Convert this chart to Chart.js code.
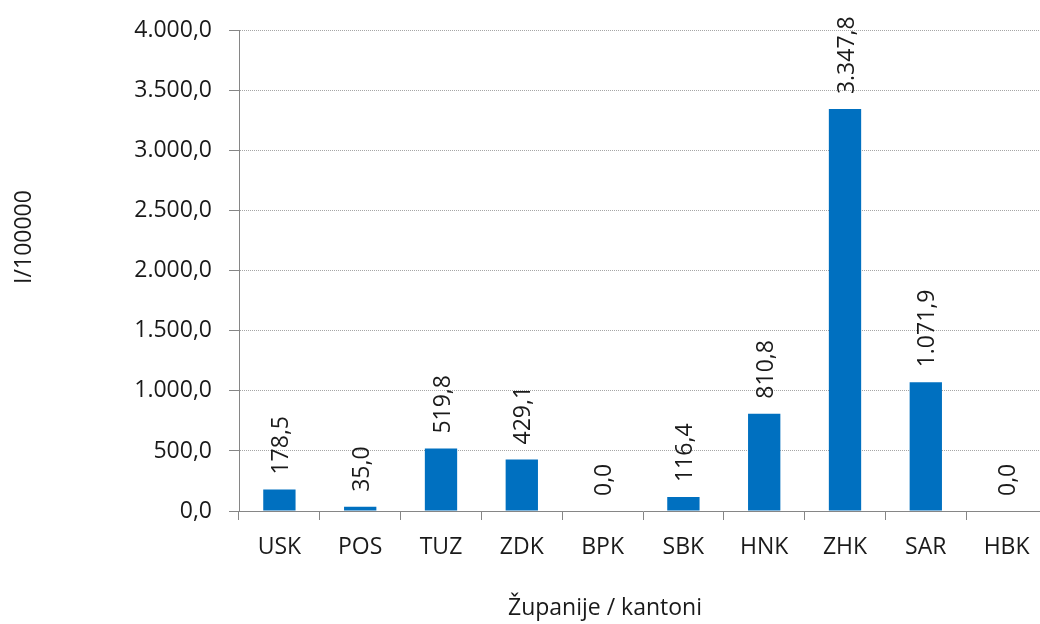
<!DOCTYPE html>
<html>
<head>
<meta charset="utf-8">
<script src="https://cdn.jsdelivr.net/npm/chart.js"></script>
<style>
  html, body { margin: 0; padding: 0; background: #fff; overflow: hidden; }
  #wrap { width: 1060px; height: 624px; }
</style>
</head>
<body>
<div id="wrap"><canvas id="grafikon"></canvas></div>
<script>
const kantoni = ['USK', 'POS', 'TUZ', 'ZDK', 'BPK', 'SBK', 'HNK', 'ZHK', 'SAR', 'HBK'];
const stope = [178.5, 35.0, 519.8, 429.1, 0.0, 116.4, 810.8, 3347.8, 1071.9, 0.0];
const yMax = 4000;
const yKorak = 500;
const naslovX = 'Županije / kantoni';
const naslovY = 'I/100000';

const font = 'Open Sans';
const velicina = 23;
const boja = '#1a1a1a';

function formatBroj(v) {
  const [cijeli, dec] = Math.abs(v).toFixed(1).split('.');
  return (v < 0 ? '-' : '') + cijeli.replace(/\B(?=(\d{3})+(?!\d))/g, '.') + ',' + dec;
}

// vrijednosti iznad stupaca, okrenute za 90°
const oznakeStupaca = {
  id: 'oznakeStupaca',
  afterDatasetsDraw(chart) {
    const ctx = chart.ctx;
    const meta = chart.getDatasetMeta(0);
    ctx.save();
    ctx.font = `${velicina}px "${font}"`;
    ctx.fillStyle = boja;
    ctx.textAlign = 'left';
    ctx.textBaseline = 'middle';
    meta.data.forEach((bar, i) => {
      ctx.save();
      ctx.translate(bar.x + 2, bar.y - 15);
      ctx.rotate(-Math.PI / 2);
      ctx.fillText(formatBroj(stope[i]), 0, 0);
      ctx.restore();
    });
    ctx.restore();
  }
};

// naslovi osi (centrirani kao u Excelu, ne na podrucje grafa)
const nasloviOsi = {
  id: 'nasloviOsi',
  afterDraw(chart) {
    const ctx = chart.ctx;
    ctx.save();
    ctx.font = `${velicina}px "${font}"`;
    ctx.fillStyle = boja;
    ctx.textAlign = 'center';
    ctx.textBaseline = 'middle';
    ctx.fillText(naslovX, 605, 608);
    ctx.translate(24, 237);
    ctx.rotate(-Math.PI / 2);
    ctx.fillText(naslovY, 0, 0);
    ctx.restore();
  }
};

const ctx = document.getElementById('grafikon').getContext('2d');
const chart = new Chart(ctx, {
  type: 'bar',
  data: {
    labels: kantoni,
    datasets: [{
      label: naslovY,
      data: stope,
      backgroundColor: '#0070C0',
      categoryPercentage: 0.4,
      barPercentage: 1
    }]
  },
  options: {
    responsive: true,
    maintainAspectRatio: false,
    animation: false,
    layout: { padding: { top: 28, right: 13, left: 0, bottom: 0 } },
    plugins: {
      legend: { display: false },
      tooltip: { enabled: false }
    },
    scales: {
      x: {
        grid: { offset: true, drawOnChartArea: false, tickLength: 9, color: '#868686' },
        border: { color: '#868686' },
        ticks: { font: { family: font, size: velicina }, color: boja, padding: 14, maxRotation: 0, autoSkip: false },
        afterFit(s) { s.height = 113; }
      },
      y: {
        min: 0,
        max: yMax,
        grid: {
          color: c => c.index === 0 ? '#868686' : '#a6a6a6',
          tickColor: '#868686',
          tickLength: 10
        },
        border: { color: '#868686', dash: [1, 1] },
        ticks: {
          stepSize: yKorak,
          callback: v => formatBroj(v),
          font: { family: font, size: velicina },
          color: boja,
          padding: 17
        },
        afterFit(s) { s.width = 239; }
      }
    }
  },
  plugins: [oznakeStupaca, nasloviOsi]
});
</script>
</body>
</html>
